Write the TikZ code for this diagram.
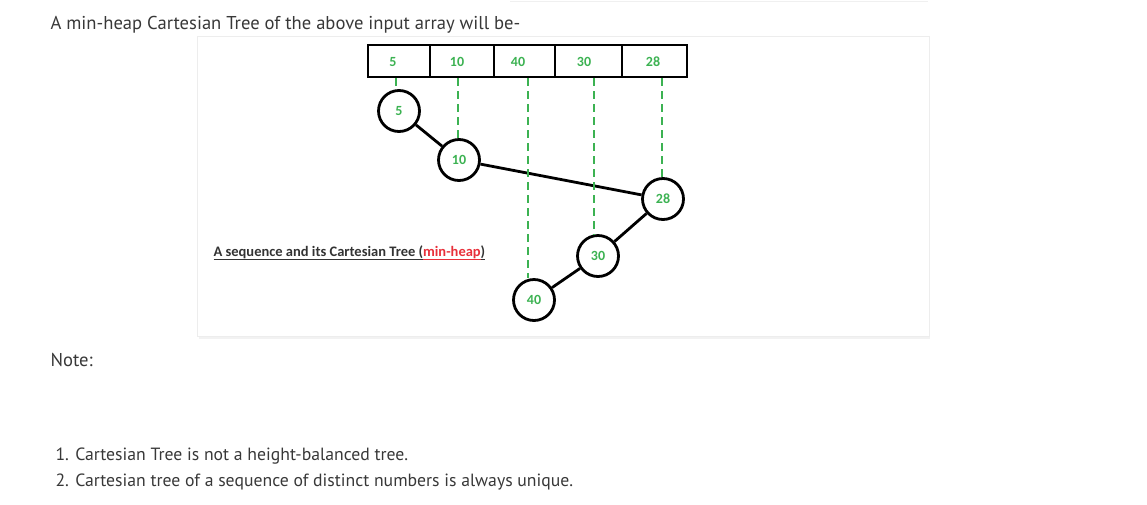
\documentclass[tikz,border=0pt]{standalone}
\usepackage{fontspec}
\setmainfont{PT Sans}
\newfontfamily\figfont{Carlito}
\definecolor{seqgreen}{RGB}{60,178,82}
\definecolor{heapred}{RGB}{232,48,58}
\begin{document}
\begin{tikzpicture}[x=1pt,y=-1pt,
  key/.style={circle,draw,line width=2.8pt,minimum size=41pt,inner sep=0pt,
    font=\figfont\bfseries\fontsize{14}{16}\selectfont,text=seqgreen},
  cell/.style={font=\figfont\bfseries\fontsize{14}{16}\selectfont,text=seqgreen},
  drop/.style={seqgreen,line width=2.8pt,dash pattern=on 8pt off 5pt},
  link/.style={line width=2.8pt},
  body/.style={anchor=base west,font=\fontsize{17.7}{20}\selectfont,text=black!78}]
  \useasboundingbox (0,0) rectangle (1147,504);
  % picture panel
  \draw[black!6,line width=1pt] (510,1) -- (928,1);
  \draw[black!7,line width=1pt] (197,36) rectangle (929,336);
  \draw[black!5,line width=2pt] (199,338) -- (930,338);
  % the sequence
  \draw[line width=2.8pt] (368,45) rectangle (687,77);
  \foreach \x in {430,494,555,622}
    \draw[line width=2.8pt] (\x,45) -- (\x,77);
  \foreach \v/\x in {5/393,10/457,40/518,30/584,28/653}
    \node[cell] (a\v) at (\x,62) {\v};
  % the tree
  \node[key] (k5) at (399,111) {5};
  \node[key] (k10) at (459,160) {10};
  \node[key] (k28) at (663,199) {28};
  \node[key] (k30) at (598,256) {30};
  \node[key] (k40) at (534,300) {40};
  \draw[link] (k5) -- (k10);
  \draw[link] (k10) -- (k28);
  \draw[link] (k28) -- (k30);
  \draw[link] (k30) -- (k40);
  \foreach \v/\x in {5/396,10/458,40/528,30/594,28/662}{
    \coordinate (d\v) at (\x,78);
    \draw[drop] (d\v) -- (d\v |- k\v.north);
  }
  \node[anchor=base west,font=\figfont\bfseries\fontsize{14.5}{17}\selectfont,text=black!80] (cap) at (210,256)
    {\underline{A sequence and its Cartesian Tree (}\textcolor{heapred}{\underline{min-heap}}\underline{)}};
  % text around it
  \node[body,font=\fontsize{18.6}{21}\selectfont] (intro) at (47,29) {A min-heap Cartesian Tree of the above input array will be-};
  \node[body,font=\fontsize{18.6}{21}\selectfont] (note) at (47,366) {Note:};
  \node[body] (one) at (52,460) {1. Cartesian Tree is not a height-balanced tree.};
  \node[body] (two) at (52,486) {2. Cartesian tree of a sequence of distinct numbers is always unique.};
\end{tikzpicture}
\end{document}
